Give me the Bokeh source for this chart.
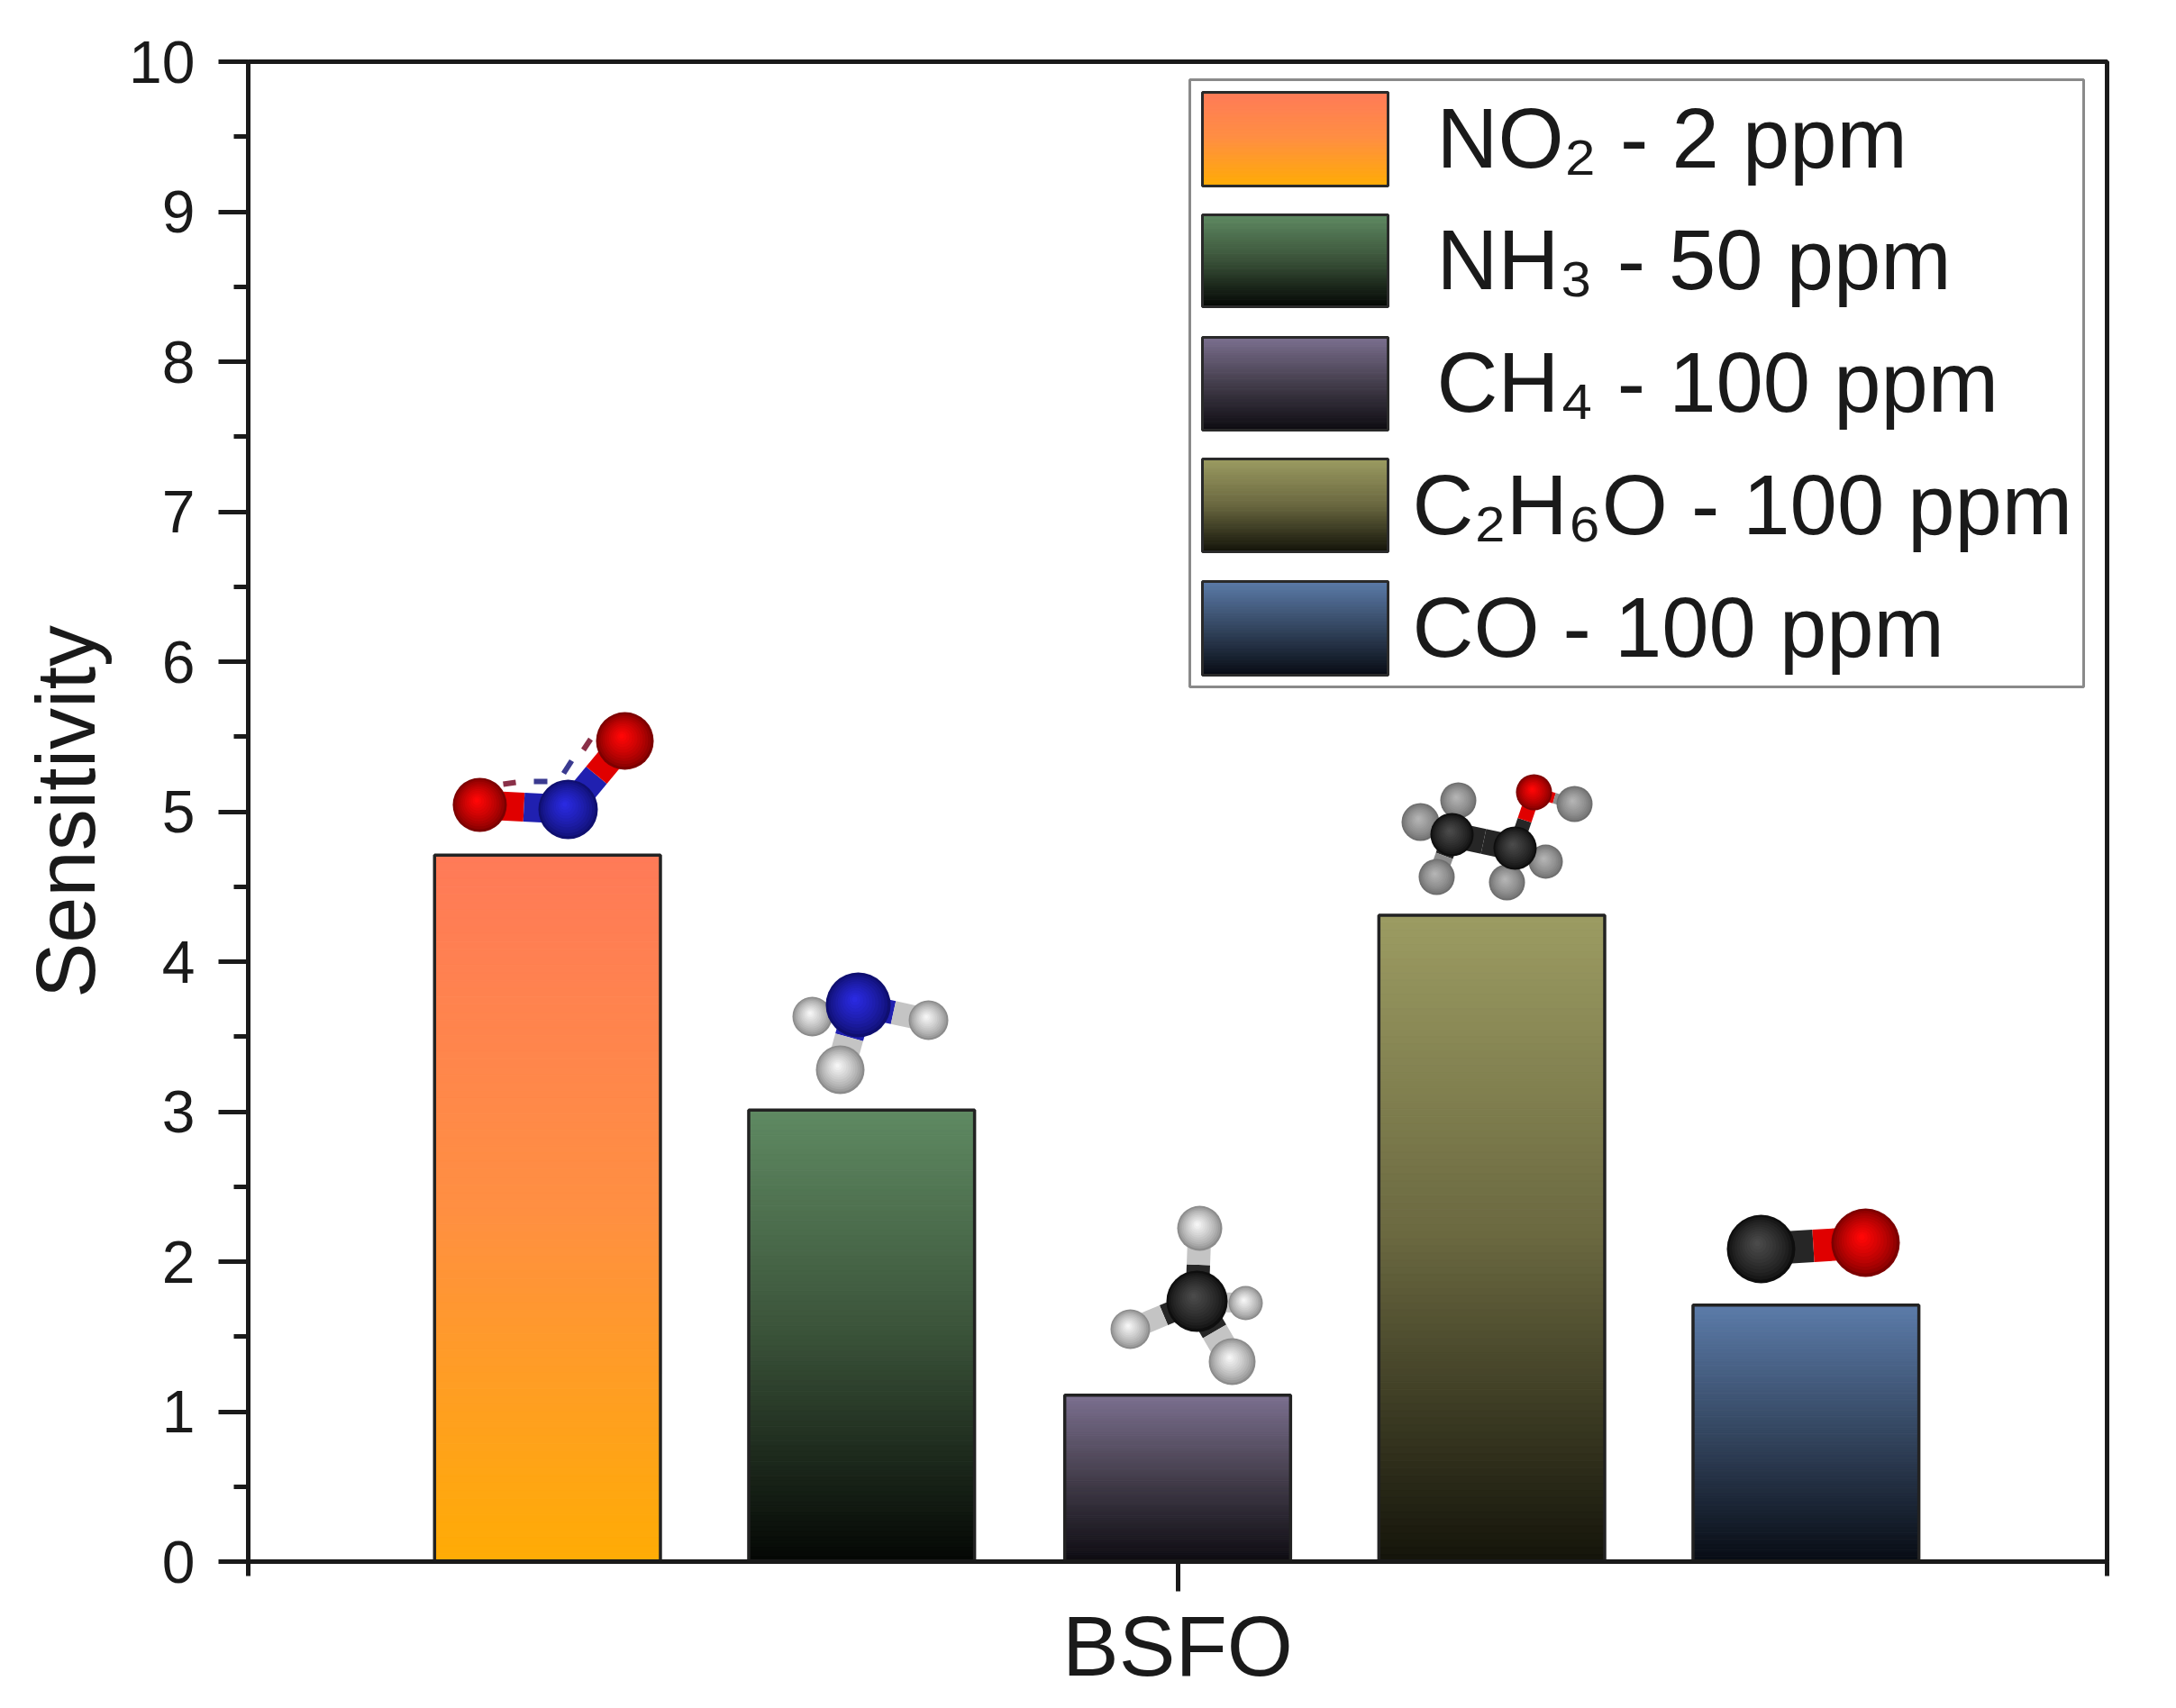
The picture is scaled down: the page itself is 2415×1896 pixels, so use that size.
from bokeh.plotting import figure
from bokeh.models import Range1d, FixedTicker, ColumnDataSource
from bokeh.core.properties import value
from bokeh.embed import file_html
from bokeh.resources import INLINE

# ---------- data ----------
CATEGORY = "BSFO"
GASES = ["NO₂ - 2 ppm", "NH₃ - 50 ppm", "CH₄ - 100 ppm", "C₂H₆O - 100 ppm", "CO - 100 ppm"]
SENSITIVITY = [4.71, 3.01, 1.11, 4.31, 1.71]
BAR_X = [0.661, 0.83, 1.0, 1.169, 1.338]
BAR_WIDTH = 0.1215
Y_TICKS = list(range(0, 11))
Y_MINOR = [0.5, 1.5, 2.5, 3.5, 4.5, 5.5, 6.5, 7.5, 8.5, 9.5]
TOP_COLORS = ["#FF7A58", "#5F8A62", "#7C7090", "#9C9C62", "#5C7CAA"]
MID_COLORS = ["#FF8F42", "#3A5239", "#443E4C", "#6A6840", "#344660"]
BOT_COLORS = ["#FFAC05", "#040704", "#0E0C12", "#14140A", "#080C14"]

# ---------- layout (pixels in the picture) ----------
F_L, F_R, F_T, F_B = 275, 2338, 68, 1733
FONT = "Liberation Sans"
INK = "#1a1a1a"
XMIN, XMAX = 0.5, 1.5
YMIN, YMAX = 0, 10


def dx(px):
    return XMIN + (px - F_L) / (F_R - F_L) * (XMAX - XMIN)


def dy(py):
    return YMIN + (F_B - py) / (F_B - F_T) * (YMAX - YMIN)


def hex2rgb(c):
    return tuple(int(c[i:i + 2], 16) for i in (1, 3, 5))


def mix(a, b, t):
    ra, rb = hex2rgb(a), hex2rgb(b)
    return "#%02x%02x%02x" % tuple(round(ra[i] + (rb[i] - ra[i]) * t) for i in range(3))


def ramp(i, t):
    """t=0 top of the bar, t=1 bottom."""
    if t < 0.5:
        return mix(TOP_COLORS[i], MID_COLORS[i], t * 2)
    return mix(MID_COLORS[i], BOT_COLORS[i], (t - 0.5) * 2)


p = figure(
    width=2399, height=1880, output_backend="svg", toolbar_location=None,
    x_range=Range1d(XMIN, XMAX), y_range=Range1d(YMIN, YMAX),
    frame_width=F_R - F_L, frame_height=F_B - F_T,
    min_border_left=F_L, min_border_top=F_T,
    min_border_right=2399 - F_R, min_border_bottom=1880 - F_B,
    background_fill_color="white", border_fill_color="white",
    outline_line_color=INK, outline_line_width=5,
)
p.grid.visible = False

# y axis
ya = p.yaxis[0]
ya.ticker = FixedTicker(ticks=Y_TICKS, minor_ticks=Y_MINOR)
ya.axis_label = "Sensitivity"
ya.axis_label_text_font = FONT
ya.axis_label_text_font_size = "92px"
ya.axis_label_text_font_style = "normal"
ya.axis_label_text_color = INK
ya.axis_label_standoff = 16
ya.major_label_text_font = FONT
ya.major_label_text_font_size = "66px"
ya.major_label_text_color = INK
ya.major_label_standoff = 26

# x axis
xa = p.xaxis[0]
xa.ticker = FixedTicker(ticks=[1.0], minor_ticks=[0.5, 1.5])
xa.major_label_overrides = {1: CATEGORY, 1.0: CATEGORY}
xa.major_label_text_font = FONT
xa.major_label_text_font_size = "94px"
xa.major_label_text_color = INK
xa.major_label_standoff = 8

for ax in (xa, ya):
    ax.axis_line_color = INK
    ax.axis_line_width = 5
    ax.major_tick_line_color = INK
    ax.major_tick_line_width = 5
    ax.minor_tick_line_color = INK
    ax.minor_tick_line_width = 5
    ax.major_tick_in = 0
    ax.major_tick_out = 33
    ax.minor_tick_in = 0
    ax.minor_tick_out = 16

# ---------- bars with vertical gradient ----------
N_SLICES = 90
for i, (cx, v) in enumerate(zip(BAR_X, SENSITIVITY)):
    l, r, b, t, c = [], [], [], [], []
    for k in range(N_SLICES):
        f0, f1 = k / N_SLICES, (k + 1) / N_SLICES
        l.append(cx - BAR_WIDTH / 2)
        r.append(cx + BAR_WIDTH / 2)
        t.append(v * (1 - f0))
        b.append(v * (1 - f1))
        c.append(ramp(i, (f0 + f1) / 2))
    p.quad(left=l, right=r, bottom=b, top=t, fill_color=c, line_color=c, line_width=1)
    p.quad(left=[cx - BAR_WIDTH / 2], right=[cx + BAR_WIDTH / 2], bottom=[0], top=[v],
           fill_color=None, line_color="#222222", line_width=3.5)

# ---------- legend ----------
LEG_L, LEG_R, LEG_T, LEG_B = 1320, 2312, 88, 762
SW_L, SW_R = 1334, 1540
SW_TOP = [102, 238, 374, 509, 645]
SW_BOT = [206, 340, 477, 612, 749]
TXT_X = [1594, 1594, 1594, 1567, 1567]
TXT_BASE = [153, 288, 424, 560, 696]
p.quad(left=[dx(LEG_L)], right=[dx(LEG_R)], top=[dy(LEG_T)], bottom=[dy(LEG_B)],
       fill_color="white", line_color="#8a8a8a", line_width=3)
for i in range(len(GASES)):
    h = SW_BOT[i] - SW_TOP[i]
    l, r, b, t, c = [], [], [], [], []
    n = 40
    for k in range(n):
        l.append(dx(SW_L))
        r.append(dx(SW_R))
        t.append(dy(SW_TOP[i] + h * k / n))
        b.append(dy(SW_TOP[i] + h * (k + 1) / n))
        c.append(ramp(i, (k + 0.5) / n))
    p.quad(left=l, right=r, bottom=b, top=t, fill_color=c, line_color=c, line_width=1)
    p.quad(left=[dx(SW_L)], right=[dx(SW_R)], top=[dy(SW_TOP[i])], bottom=[dy(SW_BOT[i])],
           fill_color=None, line_color="#2a2a2a", line_width=3)
p.text(x=[dx(v) for v in TXT_X], y=[dy(v) for v in TXT_BASE], text=GASES,
       text_font=value(FONT), text_font_size="94px", text_color=INK,
       text_baseline="alphabetic", text_align="left")

# ---------- molecule illustrations (pixel positions in the picture) ----------
STYLES = {
    "O": ("#7d0000", "#ff0606", "#e00000"),
    "N": ("#0f0f70", "#2a2ae0", "#2020b0"),
    "H": ("#8c8c8c", "#f5f5f5", "#c4c4c4"),
    "Hd": ("#6e6e6e", "#b4b4b4", "#8c8c8c"),
    "C": ("#0e0e0e", "#4a4a4a", "#262626"),
}
MOLECULES = [
    # NO2
    {"atoms": [("O", 532, 893, 30), ("N", 630, 898, 33), ("O", 693, 822, 32)],
     "bonds": [(0, 1, 32), (1, 2, 30)]},
    # NH3
    {"atoms": [("H", 901, 1128, 22), ("H", 1030, 1132, 22), ("H", 932, 1187, 27), ("N", 952, 1115, 36)],
     "bonds": [(3, 0, 24), (3, 1, 26), (3, 2, 32)]},
    # CH4
    {"atoms": [("H", 1382, 1446, 19), ("H", 1331, 1363, 25), ("H", 1254, 1475, 22),
               ("C", 1328, 1444, 34), ("H", 1367, 1511, 26)],
     "bonds": [(3, 0, 22), (3, 1, 26), (3, 2, 24), (3, 4, 30)]},
    # C2H5OH
    {"atoms": [("Hd", 1618, 888, 20), ("Hd", 1576, 912, 21), ("Hd", 1594, 973, 20), ("Hd", 1672, 979, 20),
               ("Hd", 1715, 956, 19), ("Hd", 1747, 892, 20), ("O", 1702, 879, 20),
               ("C", 1611, 926, 24), ("C", 1681, 941, 24)],
     "bonds": [(7, 0, 20), (7, 1, 20), (7, 2, 20), (8, 3, 20), (8, 4, 20),
               (6, 5, 12), (8, 6, 16), (7, 8, 28)]},
    # CO
    {"atoms": [("C", 1954, 1386, 38), ("O", 2070, 1379, 38)],
     "bonds": [(0, 1, 36)]},
]
DASH_SEGMENTS = [
    (558, 870, 572, 868, "#8a3048"), (592, 867, 607, 867, "#3a3a90"),
    (625, 858, 634, 844, "#3a3a90"), (647, 832, 655, 820, "#8a3048"),
]
for x0, y0, x1, y1, col in DASH_SEGMENTS:
    p.segment(x0=[dx(x0)], y0=[dy(y0)], x1=[dx(x1)], y1=[dy(y1)], line_color=col, line_width=6)

for mol in MOLECULES:
    atoms = mol["atoms"]
    for a, b, w in mol["bonds"]:
        ea, xa0, ya0, _ = atoms[a]
        eb, xb0, yb0, _ = atoms[b]
        xm, ym = (xa0 + xb0) / 2, (ya0 + yb0) / 2
        p.segment(x0=[dx(xa0)], y0=[dy(ya0)], x1=[dx(xm)], y1=[dy(ym)],
                  line_color=STYLES[ea][2], line_width=w)
        p.segment(x0=[dx(xm)], y0=[dy(ym)], x1=[dx(xb0)], y1=[dy(yb0)],
                  line_color=STYLES[eb][2], line_width=w)
    for el, cx, cy, rad in atoms:
        edge, core, _ = STYLES[el]
        xs, ys, ss, cs = [], [], [], []
        n = 12
        for k in range(n):
            f = 1 - k / n
            t = min(1.0, (k / (n - 1)) ** 0.75)
            xs.append(dx(cx - rad * 0.12 * (1 - f)))
            ys.append(dy(cy - rad * 0.18 * (1 - f)))
            ss.append(2 * rad * f)
            cs.append(mix(edge, core, t))
        src = ColumnDataSource(dict(x=xs, y=ys, s=ss, c=cs))
        p.scatter("x", "y", size="s", fill_color="c", line_color=None, source=src)

open("out.html", "w").write(file_html(p, INLINE))
